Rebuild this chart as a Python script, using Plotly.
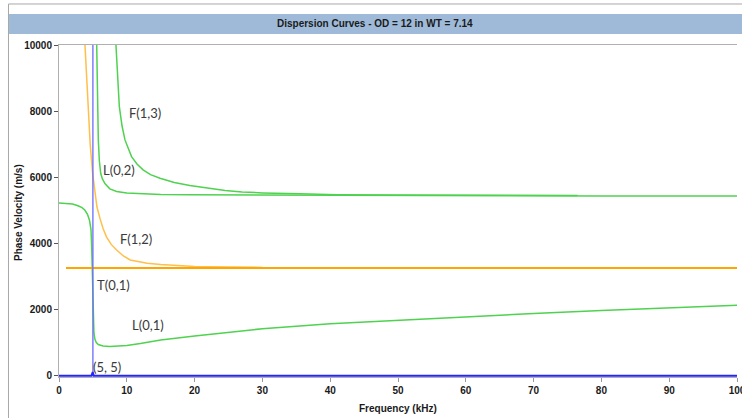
import plotly.graph_objects as go

# Dispersion curve data: frequency (kHz) vs phase velocity (m/s)
l01_freq = [0, 1, 2, 2.8, 3.4, 3.8, 4.2, 4.5, 4.72, 4.82, 4.9, 4.97, 5.05, 5.15, 5.3, 5.5,
            5.8, 6.5, 7.5, 9, 10, 12, 15, 20, 25, 30, 40, 50, 60, 70, 80, 90, 100]
l01_vel = [5220, 5215, 5190, 5140, 5080, 5010, 4880, 4700, 4420, 3900, 3200, 2400, 1700, 1300, 1100, 1000,
           940, 895, 880, 890, 910, 970, 1080, 1200, 1320, 1420, 1570, 1680, 1790, 1880, 1970, 2050, 2130]

f12_freq = [3.83, 4.0, 4.3, 4.6, 4.97, 5.3, 5.6, 6.05, 6.5, 7.0, 7.7, 8.5, 9.5, 10.5, 12, 13, 15,
            17.8, 20, 22, 25, 30]
f12_vel = [10000, 9300, 8000, 7000, 6100, 5500, 5100, 4750, 4450, 4200, 3970, 3800, 3620, 3500, 3430, 3400, 3360,
           3320, 3305, 3295, 3285, 3275]

l02_freq = [5.56, 5.65, 5.8, 5.95, 6.15, 6.4, 6.8, 7.5, 8.5, 10, 11.9, 15, 19.3, 30, 40, 60, 80, 100]
l02_vel = [10000, 8500, 7130, 6500, 6120, 5950, 5800, 5650, 5570, 5525, 5500, 5480, 5468, 5460, 5455, 5445, 5435, 5430]

f13_freq = [8.4, 8.9, 9.3, 9.73, 10.7, 11.5, 12.4, 13.5, 14.9, 17, 19.3, 22.3, 24.5, 27, 30, 35.5,
            41, 50, 60, 76.5]
f13_vel = [10000, 8135, 7550, 7130, 6625, 6400, 6223, 6080, 5972, 5840, 5750, 5650, 5598, 5558, 5528, 5498,
           5475, 5465, 5458, 5450]

t01_freq = [1.03, 100]
t01_vel = [3260, 3260]

# cursor trace at (5, 5)
cursor_freq = [0, 4.8, 4.9, 4.97, 5.04, 5.12, 100]
cursor_vel = [0, 0, 60, 110, 60, 0, 0]
marker_freq = [5, 5]
marker_vel = [110, 10000]

x_ticks = [0, 10, 20, 30, 40, 50, 60, 70, 80, 90, 100]
y_ticks = [0, 2000, 4000, 6000, 8000, 10000]

mode_labels = ["F(1,3)", "L(0,2)", "F(1,2)", "T(0,1)", "L(0,1)", "(5, 5)"]
label_freq = [12.7, 8.85, 11.36, 8.11, 13.1, 7.08]
label_vel = [7944, 6220, 4134, 2743, 1533, 263]

SANS = "Liberation Sans, Arial, sans-serif"
LABEL_FONT = "Lato, Liberation Sans, sans-serif"
GREEN = "#4fd24f"

fig = go.Figure()
fig.add_trace(go.Scatter(x=l01_freq, y=l01_vel, mode="lines", line=dict(color=GREEN, width=1.5)))
fig.add_trace(go.Scatter(x=l02_freq, y=l02_vel, mode="lines", line=dict(color=GREEN, width=1.5)))
fig.add_trace(go.Scatter(x=f13_freq, y=f13_vel, mode="lines", line=dict(color=GREEN, width=1.5)))
fig.add_trace(go.Scatter(x=f12_freq, y=f12_vel, mode="lines", line=dict(color="#ffbf4a", width=1.5)))
fig.add_trace(go.Scatter(x=t01_freq, y=t01_vel, mode="lines", line=dict(color="#ffa500", width=2)))
fig.add_trace(go.Scatter(x=marker_freq, y=marker_vel, mode="lines", line=dict(color="#6a6aff", width=1.3)))
fig.add_trace(go.Scatter(x=cursor_freq, y=cursor_vel, mode="lines", line=dict(color="#2424ff", width=2)))

for txt, fx, fy in zip(mode_labels, label_freq, label_vel):
    fig.add_annotation(x=fx, y=fy, xref="x", yref="y", text=txt, showarrow=False,
                       font=dict(family=LABEL_FONT, size=13, color="#3a3a3a"))

# title bar and outer frame
fig.add_shape(type="rect", xref="paper", yref="paper", x0=-0.0737, x1=1.01, y0=1.0331, y1=1.0934,
              fillcolor="#9fbad8", line=dict(width=0), layer="below")
fig.add_shape(type="line", xref="paper", yref="paper", x0=-0.0745, x1=1.01, y0=1.1235, y1=1.1235,
              line=dict(color="#a8a8a8", width=1))
fig.add_shape(type="line", xref="paper", yref="paper", x0=-0.0745, x1=-0.0745, y0=-0.13, y1=1.1235,
              line=dict(color="#a8a8a8", width=1))

fig.add_annotation(xref="paper", yref="paper", x=0.4668, y=1.0633, yanchor="middle", showarrow=False,
                   text="Dispersion Curves - OD = 12 in WT = 7.14",
                   font=dict(family=SANS, size=10, color="#1a1a1a", weight="bold"))
fig.add_annotation(xref="paper", yref="paper", x=-0.059, y=0.497, xanchor="center", yanchor="middle",
                   showarrow=False, textangle=-90,
                   text="Phase Velocity (m/s)",
                   font=dict(family=SANS, size=10, color="#1a1a1a", weight="bold"))
fig.add_annotation(xref="paper", yref="paper", x=0.5, y=-0.0934, yanchor="middle", showarrow=False,
                   text="Frequency (kHz)",
                   font=dict(family=SANS, size=10, color="#1a1a1a", weight="bold"))

fig.update_layout(
    width=742, height=418, autosize=False,
    margin=dict(l=59, r=5, t=45, b=41, pad=0, autoexpand=False),
    paper_bgcolor="white", plot_bgcolor="white",
    showlegend=False,
    xaxis=dict(range=[0, 100], tickvals=x_ticks, ticks="outside", ticklen=4, tickcolor="#999",
               ticklabeloverflow="allow", automargin=False,
               showline=True, linecolor="#b0b0b0", mirror=True, showgrid=False, zeroline=False,
               tickfont=dict(family=SANS, size=10, color="#1a1a1a", weight="bold")),
    yaxis=dict(range=[-40, 10000], tickvals=y_ticks, tickformat="d", ticks="outside", ticklen=4,
               automargin=False,
               tickcolor="#555", showline=True, linecolor="#b0b0b0", showgrid=False, zeroline=False,
               tickfont=dict(family=SANS, size=10, color="#1a1a1a", weight="bold")),
)

fig.write_html("out.html")
